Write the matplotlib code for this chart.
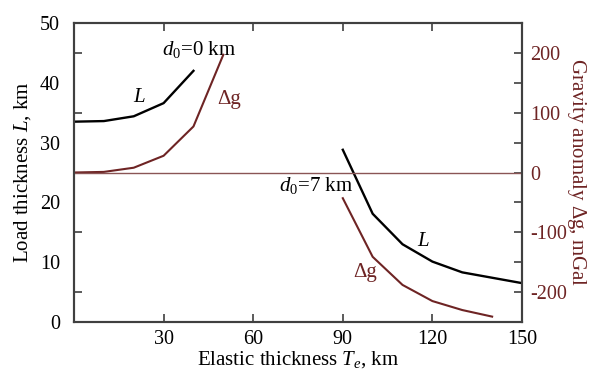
import matplotlib
matplotlib.use("Agg")
import matplotlib.pyplot as plt
import numpy as np

# Data
te_0 = [0, 10, 20, 30, 40]
L_0 = [33.5, 33.6, 34.4, 36.6, 42.0]
te_g0 = [0, 10, 20, 30, 40, 50]
dg_0 = [0, 1, 8, 28, 77, 197]

te_7 = [90, 100, 110, 120, 130, 140, 150]
L_7 = [28.8, 18.1, 13.0, 10.1, 8.3, 7.4, 6.5]
te_g7 = [90, 100, 110, 120, 130, 140]
dg_7 = [-43, -141, -188, -215, -230, -241]

xticks = [30, 60, 90, 120, 150]
yticks_left = [0, 10, 20, 30, 40, 50]
yticks_right = [-200, -100, 0, 100, 200]

BROWN = "#6e2424"
SPINE = "#404040"

plt.rcParams['font.family'] = ['Liberation Serif', 'DejaVu Serif']
plt.rcParams['mathtext.fontset'] = 'custom'
plt.rcParams['mathtext.it'] = 'Liberation Serif:italic'
plt.rcParams['mathtext.rm'] = 'Liberation Serif'

fig = plt.figure(figsize=(5.98, 3.73), dpi=100)
ax = fig.add_axes([74/598, 1-322/373, (522-74)/598, (322-23)/373])
ax2 = ax.twinx()

ax.plot(te_0, L_0, color='black', lw=1.7)
ax.plot(te_7, L_7, color='black', lw=1.7)
ax2.plot(te_g0, dg_0, color=BROWN, lw=1.5)
ax2.plot(te_g7, dg_7, color=BROWN, lw=1.5)
ax2.axhline(0, color='#8a5555', lw=1.0)

ax.set_xlim(0, 150)
ax.set_ylim(0, 50)
ax2.set_ylim(-250, 250)

fs = 15
tfs = 14.5
ax.set_xticks(xticks)
ax.set_xticklabels([str(v) for v in xticks], fontsize=tfs)
ax.set_yticks(yticks_left)
ax.set_yticklabels([str(v) for v in yticks_left], fontsize=tfs)
ax.set_yticks(np.arange(5, 50, 10), minor=True)
ax.tick_params(axis='y', which='major', length=0, pad=10)
ax.tick_params(axis='y', which='minor', direction='in', length=6, color=SPINE, width=1.2)
ax.tick_params(axis='x', which='major', direction='in', length=6, color=SPINE, width=1.2,
               top=True, pad=6)
ax2.set_yticks(yticks_right)
ax2.set_yticklabels([str(v) for v in yticks_right], fontsize=tfs, color=BROWN)
ax2.set_yticks(np.arange(-150, 200, 100), minor=True)
ax2.tick_params(axis='y', which='both', direction='in', length=6, color=SPINE, width=1.2, pad=6)

for a in (ax, ax2):
    for s in a.spines.values():
        s.set_color(SPINE)
        s.set_linewidth(1.5)

ax.set_xlabel(r'Elastic thickness $T_e$, km', fontsize=fs, labelpad=0)
ax.set_ylabel(r'Load thickness $L$, km', fontsize=fs, labelpad=5)
ax2.set_ylabel(r'Gravity anomaly $\Delta$g, mGal', fontsize=fs, color=BROWN,
               rotation=270, labelpad=15)

ax.text(42, 45.5, r'$d_0$=0 km', fontsize=fs, ha='center', va='center')
ax.text(22, 37.5, r'$L$', fontsize=fs, ha='center', va='center')
ax2.text(52, 122, 'Δg', fontsize=fs, ha='center', va='center', color=BROWN)
ax.text(81, 22.8, r'$d_0$=7 km', fontsize=fs, ha='center', va='center')
ax.text(117, 13.4, r'$L$', fontsize=fs, ha='center', va='center')
ax2.text(97.5, -168, 'Δg', fontsize=fs, ha='center', va='center', color=BROWN)

fig.savefig('out.png', dpi=100)
